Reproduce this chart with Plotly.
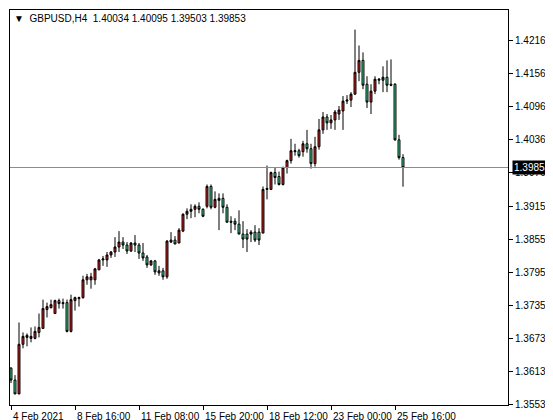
import plotly.graph_objects as go

# GBPUSD H4 bars
opens = [1.36201, 1.35984, 1.35731, 1.36635, 1.36761, 1.36743, 1.36743, 1.36851, 1.36924, 1.37267,
         1.37303, 1.37195, 1.37430, 1.37394, 1.37394, 1.36870, 1.37430, 1.37466, 1.37484, 1.37809,
         1.37809, 1.37809, 1.37990, 1.38171, 1.38171, 1.38261, 1.38315, 1.38406, 1.38496, 1.38442,
         1.38333, 1.38478, 1.38442, 1.38297, 1.38225, 1.38080, 1.38153, 1.37972, 1.37972, 1.37863,
         1.38496, 1.38532, 1.38478, 1.38695, 1.39002, 1.39056, 1.39092, 1.39147, 1.39092, 1.39147,
         1.39508, 1.39129, 1.39255, 1.39291, 1.39129, 1.38876, 1.38876, 1.38821, 1.38641, 1.38641,
         1.38641, 1.38677, 1.38677, 1.38659, 1.39454, 1.39454, 1.39761, 1.39689, 1.39544, 1.39851,
         1.39978, 1.40141, 1.40159, 1.40141, 1.40285, 1.40195, 1.39924, 1.40231, 1.40538, 1.40773,
         1.40665, 1.40719, 1.40827, 1.40882, 1.41062, 1.41080, 1.41189, 1.41586, 1.41803, 1.41369,
         1.41044, 1.41243, 1.41442, 1.41442, 1.41496, 1.41369, 1.41369, 1.40357, 1.40034]
highs = [1.36219, 1.36074, 1.37032, 1.36851, 1.36833, 1.36942, 1.36960, 1.37195, 1.37448, 1.37394,
         1.37448, 1.37448, 1.37466, 1.37466, 1.37448, 1.37538, 1.37502, 1.37502, 1.37882, 1.37917,
         1.37935, 1.38026, 1.38189, 1.38243, 1.38315, 1.38333, 1.38586, 1.38695, 1.38586, 1.38496,
         1.38496, 1.38623, 1.38478, 1.38478, 1.38261, 1.38171, 1.38171, 1.38062, 1.38026, 1.38532,
         1.38677, 1.38604, 1.38749, 1.39020, 1.39110, 1.39183, 1.39183, 1.39219, 1.39110, 1.39544,
         1.39544, 1.39418, 1.39382, 1.39382, 1.39183, 1.38966, 1.38930, 1.39074, 1.38876, 1.38731,
         1.38713, 1.38803, 1.38749, 1.39508, 1.39888, 1.39779, 1.39851, 1.39779, 1.39869, 1.39996,
         1.40375, 1.40285, 1.40195, 1.40339, 1.40538, 1.40285, 1.40412, 1.40737, 1.40863, 1.40827,
         1.40809, 1.40900, 1.40972, 1.41153, 1.41171, 1.41225, 1.42363, 1.42074, 1.41948, 1.41514,
         1.41369, 1.41514, 1.41478, 1.41695, 1.41803, 1.41821, 1.41388, 1.40448, 1.40095]
lows = [1.35930, 1.35731, 1.35731, 1.36562, 1.36598, 1.36671, 1.36725, 1.36761, 1.36924, 1.37123,
        1.37285, 1.37195, 1.37285, 1.37285, 1.36851, 1.36851, 1.37249, 1.37321, 1.37466, 1.37719,
        1.37647, 1.37719, 1.37990, 1.38062, 1.38044, 1.38207, 1.38225, 1.38315, 1.38370, 1.38279,
        1.38315, 1.38315, 1.38189, 1.38153, 1.38026, 1.38062, 1.37899, 1.37882, 1.37809, 1.37827,
        1.38478, 1.38460, 1.38478, 1.38677, 1.38912, 1.38930, 1.38948, 1.39020, 1.38948, 1.39110,
        1.39092, 1.39110, 1.38713, 1.39020, 1.38857, 1.38659, 1.38713, 1.38641, 1.38388, 1.38315,
        1.38496, 1.38496, 1.38442, 1.38659, 1.39273, 1.39454, 1.39544, 1.39526, 1.39526, 1.39743,
        1.39924, 1.40068, 1.40032, 1.40050, 1.40122, 1.39833, 1.39869, 1.40177, 1.40466, 1.40538,
        1.40556, 1.40538, 1.40719, 1.40538, 1.41008, 1.40954, 1.41171, 1.41424, 1.41279, 1.40936,
        1.40827, 1.41189, 1.41369, 1.41225, 1.41225, 1.41333, 1.40339, 1.39996, 1.39503]
closes = [1.35984, 1.35731, 1.36635, 1.36779, 1.36797, 1.36779, 1.36870, 1.36942, 1.37285, 1.37321,
          1.37357, 1.37430, 1.37376, 1.37376, 1.36870, 1.37448, 1.37484, 1.37484, 1.37809, 1.37863,
          1.37863, 1.38008, 1.38171, 1.38189, 1.38261, 1.38315, 1.38406, 1.38496, 1.38442, 1.38333,
          1.38478, 1.38442, 1.38297, 1.38207, 1.38080, 1.38153, 1.37953, 1.37935, 1.37863, 1.38514,
          1.38532, 1.38460, 1.38713, 1.39002, 1.39056, 1.39092, 1.39147, 1.39092, 1.38966, 1.39508,
          1.39129, 1.39273, 1.39291, 1.39129, 1.38857, 1.38857, 1.38821, 1.38641, 1.38550, 1.38550,
          1.38677, 1.38532, 1.38532, 1.39454, 1.39472, 1.39761, 1.39671, 1.39544, 1.39851, 1.39978,
          1.40159, 1.40159, 1.40068, 1.40285, 1.40195, 1.39924, 1.40231, 1.40538, 1.40773, 1.40665,
          1.40719, 1.40863, 1.40900, 1.41062, 1.41080, 1.41189, 1.41586, 1.41803, 1.41351, 1.41044,
          1.41243, 1.41460, 1.41460, 1.41496, 1.41351, 1.41351, 1.40357, 1.40032, 1.39853]

price_ticks = [1.42165, 1.41565, 1.40965, 1.40365, 1.39765, 1.39150, 1.38550,
               1.37950, 1.37350, 1.36735, 1.36133, 1.35535]
time_labels = ['4 Feb 2021', '8 Feb 16:00', '11 Feb 08:00', '15 Feb 20:00',
               '18 Feb 12:00', '23 Feb 00:00', '25 Feb 16:00']
time_ticks = [0, 16, 32, 48, 64, 80, 96]
last_price = 1.39853

bars = list(range(len(opens)))

fig = go.Figure(go.Candlestick(
    x=bars, open=opens, high=highs, low=lows, close=closes,
    increasing=dict(fillcolor='#e0201e', line=dict(color='black', width=1)),
    decreasing=dict(fillcolor='#3ce39a', line=dict(color='black', width=1)),
    whiskerwidth=0, showlegend=False, hoverinfo='skip'))

fig.add_hline(y=last_price, line=dict(color='#7f8f9f', width=1))

font = dict(family='Liberation Sans', size=10, color='black')
annotations = [dict(text='▼  GBPUSD,H4  1.40034 1.40095 1.39503 1.39853',
                    xref='paper', yref='paper', x=0.004, y=0.997,
                    xanchor='left', yanchor='top', showarrow=False, font=font),
               dict(text='1.39853', xref='paper', yref='y', x=1.008, y=last_price,
                    xanchor='left', yanchor='middle', showarrow=False,
                    bgcolor='black', borderpad=1,
                    font=dict(family='Liberation Sans', size=10, color='white'))]
for t, lab in zip(time_ticks, time_labels):
    annotations.append(dict(text=lab, xref='x', yref='paper', x=t - 0.1, y=-0.01,
                            xanchor='left', yanchor='top', showarrow=False, font=font))

fig.update_layout(
    width=553, height=420,
    margin=dict(l=2, r=53, t=2, b=23, autoexpand=False),
    paper_bgcolor='white', plot_bgcolor='white',
    annotations=annotations,
    xaxis=dict(range=[-0.25, 124.25], rangeslider=dict(visible=False),
               tickvals=time_ticks, ticktext=[''] * len(time_ticks),
               ticks='outside', ticklen=4, tickcolor='black',
               showgrid=False, zeroline=False, automargin=False,
               showline=True, linecolor='black', mirror=True),
    yaxis=dict(range=[1.3553, 1.4272], side='right',
               tickvals=price_ticks, ticktext=[f'{v:.5f}' for v in price_ticks],
               ticks='outside', ticklen=4, tickcolor='black', tickfont=font,
               showgrid=False, zeroline=False, automargin=False,
               showline=True, linecolor='black', mirror=True),
)

fig.write_html('out.html')
